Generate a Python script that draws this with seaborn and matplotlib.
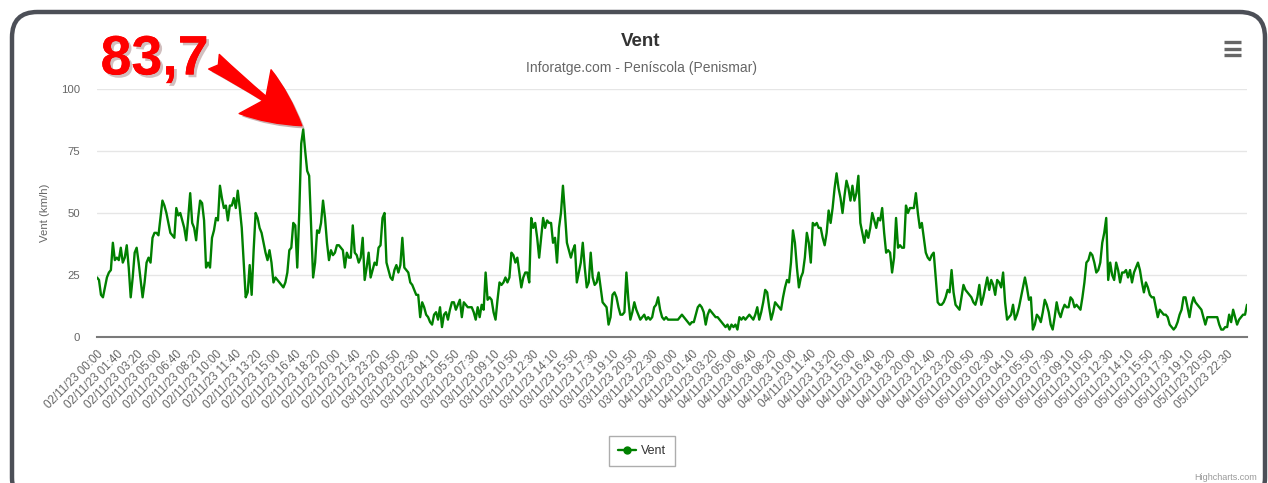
import numpy as np
import pandas as pd
import matplotlib
matplotlib.use("Agg")
import matplotlib.pyplot as plt
import matplotlib.patheffects as pe
from matplotlib.patches import FancyBboxPatch
from matplotlib.lines import Line2D
import seaborn as sns

# Vent (km/h) - un point toutes les 10 minutes, 10 points par etiquette
vent = [
    24, 23, 17, 16, 20, 24, 26, 27, 38, 31,
    32, 31, 36, 30, 32, 37, 28, 16, 24, 34,
    36, 30, 23, 16, 22, 30, 32, 30, 40, 42,
    42, 41, 48, 55, 53, 50, 46, 42, 41, 40,
    52, 49, 50, 47, 44, 39, 48, 58, 46, 44,
    39, 48, 55, 54, 47, 28, 30, 28, 40, 43,
    48, 47, 61, 56, 52, 53, 47, 53, 53, 56,
    52, 59, 52, 44, 30, 16, 18, 29, 17, 35,
    50, 48, 44, 42, 38, 34, 31, 35, 30, 22,
    24, 23, 22, 21, 20, 22, 26, 35, 36, 46,
    45, 28, 50, 78, 83.7, 75, 67, 65, 45, 24,
    30, 43, 42, 46, 55, 48, 38, 31, 35, 33,
    34, 37, 37, 36, 35, 28, 34, 32, 32, 45,
    34, 33, 30, 32, 40, 23, 28, 34, 24, 27,
    30, 29, 36, 37, 48, 50, 30, 27, 24, 23,
    27, 29, 26, 29, 40, 28, 27, 26, 22, 21,
    19, 17, 17, 8, 14, 12, 9, 8, 6, 5,
    9, 10, 7, 12, 4, 9, 10, 7, 11, 14,
    14, 11, 13, 15, 8, 14, 13, 12, 12, 12,
    10, 7, 12, 8, 13, 11, 26, 15, 16, 15,
    10, 7, 15, 22, 21, 22, 24, 22, 24, 34,
    33, 30, 32, 26, 20, 24, 26, 26, 22, 48,
    44, 46, 40, 32, 40, 48, 44, 47, 46, 46,
    38, 40, 30, 44, 50, 61, 50, 38, 35, 32,
    35, 37, 22, 26, 30, 38, 28, 20, 22, 34,
    24, 21, 22, 26, 20, 14, 13, 12, 5, 8,
    17, 18, 16, 12, 9, 9, 10, 26, 15, 7,
    10, 14, 11, 9, 7, 8, 9, 7, 8, 7,
    8, 12, 13, 16, 11, 8, 7, 8, 7, 7,
    7, 7, 7, 7, 8, 9, 8, 7, 6, 5,
    6, 6, 9, 12, 13, 12, 10, 5, 9, 11,
    10, 9, 8, 8, 7, 6, 5, 4, 5, 3,
    5, 4, 5, 3, 8, 7, 8, 7, 8, 9,
    8, 7, 9, 12, 7, 10, 14, 19, 18, 12,
    7, 10, 14, 13, 12, 11, 16, 20, 23, 22,
    30, 43, 38, 28, 20, 24, 26, 32, 42, 38,
    30, 46, 45, 46, 44, 44, 40, 37, 42, 51,
    46, 52, 60, 66, 60, 56, 50, 57, 63, 60,
    55, 61, 55, 58, 65, 46, 42, 38, 43, 40,
    44, 50, 47, 44, 48, 47, 52, 42, 34, 35,
    34, 26, 32, 48, 36, 37, 36, 36, 53, 50,
    52, 52, 52, 58, 50, 44, 46, 40, 34, 32,
    31, 33, 34, 24, 14, 13, 13, 14, 16, 19,
    18, 27, 18, 13, 12, 11, 16, 21, 19, 18,
    17, 16, 14, 13, 16, 21, 13, 16, 20, 24,
    19, 23, 21, 17, 23, 22, 20, 26, 14, 7,
    8, 9, 13, 7, 9, 12, 16, 20, 24, 20,
    15, 16, 3, 5, 9, 8, 6, 10, 15, 13,
    10, 5, 3, 8, 14, 10, 8, 11, 13, 12,
    12, 16, 15, 12, 13, 12, 11, 16, 22, 30,
    31, 34, 33, 30, 26, 27, 30, 38, 42, 48,
    23, 30, 25, 23, 30, 27, 22, 26, 26, 27,
    24, 27, 22, 26, 28, 30, 27, 22, 18, 22,
    20, 17, 16, 16, 12, 8, 11, 10, 9, 9,
    8, 5, 4, 3, 4, 6, 9, 11, 16, 16,
    12, 8, 13, 16, 14, 13, 12, 11, 8, 5,
    8, 8, 8, 8, 8, 8, 5, 3, 3, 4,
    4, 9, 6, 11, 8, 5, 7, 8, 9, 9,
    13,
]

heures_a = ["00:00", "01:40", "03:20", "05:00", "06:40", "08:20", "10:00", "11:40",
            "13:20", "15:00", "16:40", "18:20", "20:00", "21:40", "23:20"]
heures_b = ["00:50", "02:30", "04:10", "05:50", "07:30", "09:10", "10:50", "12:30",
            "14:10", "15:50", "17:30", "19:10", "20:50", "22:30"]
tick_labels = (["02/11/23 " + h for h in heures_a] + ["03/11/23 " + h for h in heures_b]
               + ["04/11/23 " + h for h in heures_a] + ["05/11/23 " + h for h in heures_b])
tick_step = 10
peak_label = "83,7"

df = pd.DataFrame({"idx": np.arange(len(vent)), "vent": vent})

sns.set_theme(style="white")
plt.rcParams["font.family"] = ["Liberation Sans", "DejaVu Sans"]

W, H = 1268, 483
fig = plt.figure(figsize=(W / 100, H / 100), dpi=100)
fig.patch.set_facecolor("white")

# cadre arrondi de la carte
card = FancyBboxPatch((12 / W, -20 / H), 1253 / W, 491 / H,
                      boxstyle="round,pad=0,rounding_size=0.02",
                      transform=fig.transFigure, facecolor="white",
                      edgecolor="#4c4f57", linewidth=3.2, zorder=0,
                      mutation_aspect=W / H)
fig.add_artist(card)

ax = fig.add_axes([97 / W, (H - 337) / H, 1150 / W, 248 / H])
ax.set_facecolor("none")
sns.lineplot(data=df, x="idx", y="vent", ax=ax, color="#008000", linewidth=1.7,
             legend=False)
ax.lines[0].set_solid_joinstyle("round")

ax.set_xlim(0, len(vent) - 1)
ax.set_ylim(0, 100)
ax.set_yticks([0, 25, 50, 75, 100])
ax.grid(axis="y", color="#e6e6e6", linewidth=1)
ax.grid(axis="x", visible=False)
for s in ["top", "right", "left"]:
    ax.spines[s].set_visible(False)
ax.spines["bottom"].set_color("#7a7a7a")
ax.spines["bottom"].set_linewidth(1.5)

ax.set_xticks(np.arange(len(tick_labels)) * tick_step)
ax.set_xticklabels(tick_labels, rotation=45, ha="right", va="top",
                   rotation_mode="anchor", fontsize=8.4, color="#666666")
ax.tick_params(axis="x", length=0, pad=8)
ax.tick_params(axis="y", length=0, pad=12, labelsize=8.2, labelcolor="#666666")
ax.set_xlabel("")
ax.set_ylabel("Vent (km/h)", fontsize=8.2, color="#666666")
ax.yaxis.set_label_coords(-0.041, 0.5)

# titres
fig.text(641 / W, 1 - 42 / H, "Vent", ha="center", va="center", fontsize=13.5,
         fontweight="bold", color="#333333")
fig.text(641 / W, 1 - 68 / H, "Inforatge.com - Peníscola (Penismar)", ha="center",
         va="center", fontsize=10, color="#666666")

# legende
handle = Line2D([], [], color="#008000", linewidth=1.7, marker="o", markersize=5)
leg = ax.legend([handle], ["Vent"], loc="center", bbox_to_anchor=(642 / W, 1 - 451 / H),
                bbox_transform=fig.transFigure, fontsize=9, frameon=True, fancybox=False,
                handlelength=1.5, handletextpad=0.4, borderpad=0.7)
leg.get_frame().set_edgecolor("#999999")
leg.get_frame().set_linewidth(1)
for t in leg.get_texts():
    t.set_color("#333333")

# menu (hamburger)
for yy in [42, 48.5, 55]:
    fig.add_artist(Line2D([1224 / W, 1241 / W], [1 - yy / H, 1 - yy / H],
                          transform=fig.transFigure, color="#666666", linewidth=2.4,
                          solid_capstyle="butt"))

fig.text(1257 / W, 1 - 478 / H, "Highcharts.com", ha="right", va="center",
         fontsize=6.5, color="#999999")

# annotation du maximum
ipeak = int(np.argmax(vent))
arrow = ax.annotate("", xy=(ipeak - 0.7, vent[ipeak] + 1.5), xytext=(59, 111),
                    xycoords="data", textcoords="data", annotation_clip=False,
                    arrowprops=dict(arrowstyle="fancy,head_length=1.6,head_width=1.5,tail_width=0.5",
                                    mutation_scale=26, color="#ff0000", shrinkA=0, shrinkB=0,
                                    path_effects=[pe.SimplePatchShadow(offset=(2, -2), alpha=0.3),
                                                  pe.Normal()]))
txt = ax.text(29, 111.5, peak_label, ha="center", va="center", fontsize=40,
              fontweight="bold", color="#ff0000", clip_on=False)
txt.set_path_effects([pe.withStroke(linewidth=8, foreground="white"),
                      pe.SimplePatchShadow(offset=(2, -2), alpha=0.25),
                      pe.Normal()])

fig.savefig("out.png", dpi=100, facecolor="white")
